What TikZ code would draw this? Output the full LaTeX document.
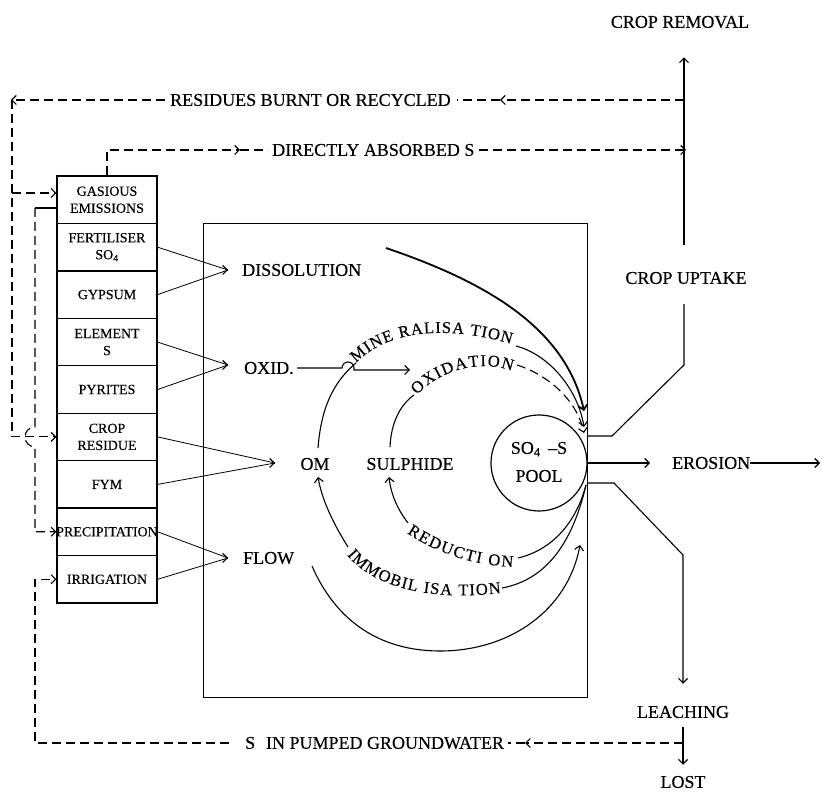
\documentclass[tikz,border=0pt]{standalone}
\usepackage{fontspec}
\setmainfont{Liberation Serif}[FakeBold=0.35]
\usetikzlibrary{arrows.meta,decorations.text}
\begin{document}
\begin{tikzpicture}[x=1pt,y=1pt,
  ln/.style={line width=1.1pt},
  thn/.style={line width=0.8pt},
  dsh/.style={line width=1.1pt,dash pattern=on 9pt off 5pt},
  arr/.style={-{Straight Barb[length=4.5pt,width=9pt]}},
  lbl/.style={font=\fontsize{18}{20}\selectfont,inner sep=0pt},
  sbox/.style={draw,line width=1.2pt,minimum width=100pt,minimum height=47.44pt,
    inner sep=0pt,align=center,font=\fontsize{14}{17}\selectfont},
  crvtext/.style={decorate,decoration={text along path,text align={fit to path},
    text={|\fontsize{16.5}{17}\selectfont|#1}}}]
\useasboundingbox (0,0) rectangle (822,795);

% left column of sources
\node[sbox] (gas)  at (107,595.3) {GASIOUS\\EMISSIONS};
\node[sbox] (fert) at (107,547.8) {FERTILISER\\SO\textsubscript{4}};
\node[sbox] (gyp)  at (107,500.4) {GYPSUM};
\node[sbox] (elem) at (107,452.9) {ELEMENT\\S};
\node[sbox] (pyr)  at (107,405.5) {PYRITES};
\node[sbox] (crop) at (107,358.1) {CROP\\RESIDUE};
\node[sbox] (fym)  at (107,310.6) {FYM};
\node[sbox] (prec) at (107,263.2) {\makebox[96pt][c]{PRECIPITATION}};
\node[sbox] (irr)  at (107,215.7) {IRRIGATION};

% soil frame
\node[draw,line width=1.3pt,minimum width=384pt,minimum height=474pt,anchor=south west,inner sep=0pt] (soil) at (203,97) {};

% inner labels
\node[lbl,anchor=west] (dis) at (242,525) {DISSOLUTION};
\node[lbl,anchor=west] (oxid) at (244,427) {OXID.};
\node[lbl] (om) at (315,331) {OM};
\node[lbl] (sul) at (410,331) {SULPHIDE};
\node[lbl,anchor=west] (flow) at (243,237) {FLOW};
\node[circle,draw,line width=1.2pt,minimum size=96pt,inner sep=0pt] (pool) at (539,332) {};
\node[lbl,align=center,font=\fontsize{18}{28}\selectfont] (pooltxt) at (539,333) {SO\textsubscript{4} \,–S\\POOL};

% converging input arrows
\coordinate (tdis) at (228,525);
\coordinate (tox) at (228,430);
\coordinate (tom) at (275,332);
\coordinate (tfl) at (228,237);
\draw[thn] (fert.east) -- (tdis);
\draw[thn] (gyp.east) -- (tdis);
\draw[ln,arr] ([xshift=-1pt]tdis) -- (tdis);
\draw[thn] (elem.east) -- (tox);
\draw[thn] (pyr.east) -- (tox);
\draw[ln,arr] ([xshift=-1pt]tox) -- (tox);
\draw[thn] (crop.east) -- (tom);
\draw[thn] (fym.east) -- (tom);
\draw[ln,arr] ([xshift=-1pt]tom) -- (tom);
\draw[thn] (prec.east) -- (tfl);
\draw[thn] (irr.east) -- (tfl);
\draw[ln,arr] ([xshift=-1pt]tfl) -- (tfl);

% OXID line with hop
\draw[ln,arr] (297,427) -- (342,427) arc[start angle=180,end angle=0,radius=6] -- (354,425) -- (410,425);

% dissolution curve
\draw[line width=1.8pt,arr] (386,547) .. controls (480,515) and (565,470) .. (584,384);

% mineralisation
\draw[ln] (318,347) .. controls (321,385) and (332,412) .. (356,432);
\path[crvtext={MINE RALISA TION}] (356,432) .. controls (385,462) and (440,472) .. (511,451);
\draw[ln,arr] (516,449) .. controls (550,440) and (578,405) .. (584,368);

% oxidation
\draw[ln] (390,348) .. controls (391,372) and (400,390) .. (414,400);
\path[crvtext={OXIDATION}] (417,400) .. controls (440,425) and (480,436) .. (512,424);
\draw[dsh,arr] (517,430) .. controls (548,420) and (577,395) .. (584,362);

% reduction
\draw[ln] (586,310) .. controls (576,272) and (552,245) .. (518,237);
\path[crvtext={REDUCTI ON}] (407,262) .. controls (435,243) and (470,230) .. (513,228);
\draw[ln,arr] (408,272) .. controls (398,285) and (391,300) .. (389,318);

% immobilisation
\draw[ln] (586,310) .. controls (572,250) and (545,215) .. (502,207);
\path[crvtext={IMMOBIL ISA TION}] (347,240) .. controls (372,210) and (425,193) .. (501,202);
\draw[ln,arr] (348,248) .. controls (333,272) and (322,295) .. (318,318);

% flow curve
\draw[ln,arr] (312,229) .. controls (340,165) and (390,144) .. (440,144) .. controls (510,144) and (568,185) .. (580,250);

% right side: crop uptake / removal
\node[lbl] (cupt) at (686,517) {CROP UPTAKE};
\node[lbl] (crem) at (680,773) {CROP REMOVAL};
\draw[ln] (587,359) -- (612,359) -- (684,430) -- ([xshift=-2pt,yshift=-20pt]cupt.south);
\draw[ln,arr] ([xshift=-2pt,yshift=27pt]cupt.north) -- ([xshift=4pt,yshift=-29pt]crem.south);

% erosion
\node[lbl,anchor=west] (ero) at (672,332) {EROSION};
\draw[ln,arr] (pool.east) -- (650,332);
\draw[ln,arr] (ero.east) -- (820,332);

% leaching
\node[lbl] (leach) at (683,83) {LEACHING};
\node[lbl] (lost) at (683,13) {LOST};
\draw[ln,arr] (587,312) -- (614,312) -- (683,240) -- ([yshift=22pt]leach.north);
\draw[ln,arr] ([yshift=-9pt]leach.south) -- ([yshift=11pt]lost.north);

% residues burnt or recycled
\node[lbl,anchor=west] (resid) at (170,695) {RESIDUES BURNT OR RECYCLED};
\coordinate (rr) at (684,695);
\coordinate (ra) at (500,695);
\coordinate (lt) at (11,695);
\draw[dsh,arr] (rr) -- (ra);
\draw[dsh] (ra) -- ([xshift=6pt]resid.east);
\draw[dsh,arr] ([xshift=-5pt]resid.west) -- (lt);
\draw[dsh,arr] (12,695) -- (12,358.1) -- (crop.west);
\draw[dsh,arr] (12,602) -- ([yshift=6.7pt]gas.west);

% gaseous emissions to precipitation
\draw[line width=1.6pt] ([yshift=-8.3pt]gas.west) -- (35,587);
\draw[dsh,arr] (35,587) -- (35,368.1) arc[start angle=90,end angle=270,radius=10] -- (35,263.2) -- (prec.west);

% directly absorbed
\node[lbl,anchor=west] (dab) at (272,645) {DIRECTLY ABSORBED S};
\coordinate (da1) at (240,645);
\draw[dsh,arr] (gas.north) -- (107,645) -- (da1);
\draw[dsh] (da1) -- ([xshift=-4pt]dab.west);
\draw[dsh,arr] ([xshift=4pt]dab.east) -- (686,645);

% groundwater
\node[lbl,anchor=west] (gw) at (245,52) {S\hspace{0.6em}IN PUMPED GROUNDWATER};
\coordinate (lv) at (683,52);
\coordinate (ga) at (525,52);
\draw[dsh,arr] (lv) -- (ga);
\draw[dsh] (ga) -- ([xshift=4pt]gw.east);
\draw[dsh,arr] ([xshift=-16pt]gw.west) -- (35,52) -- (35,215.7) -- (irr.west);
\end{tikzpicture}
\end{document}
